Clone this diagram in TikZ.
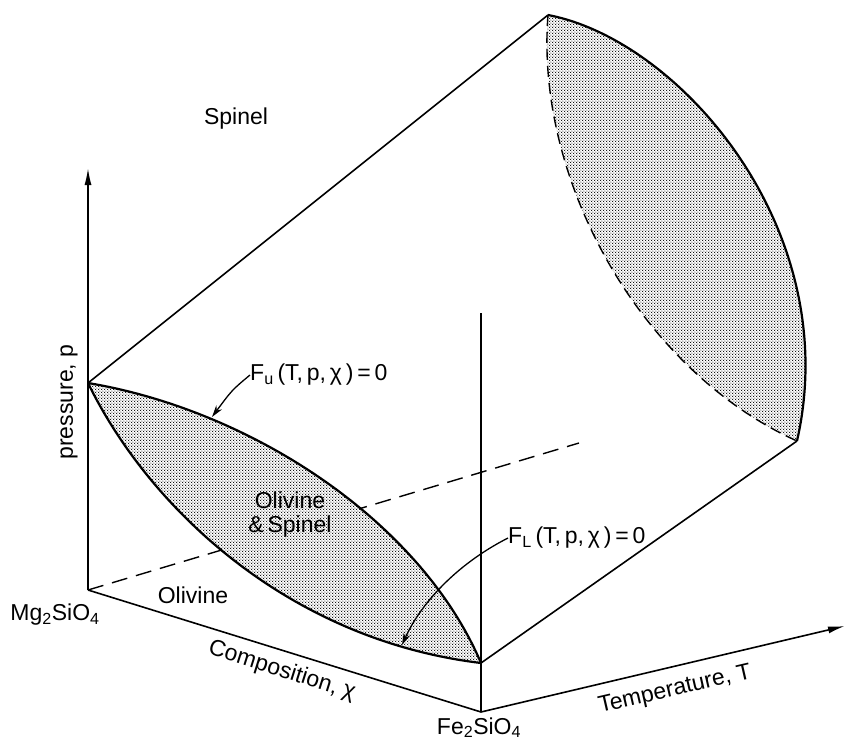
\documentclass[tikz,border=0pt]{standalone}
\usepackage{fontspec}
\setmainfont{Liberation Sans}
\usetikzlibrary{arrows.meta,patterns.meta}

\tikzdeclarepattern{
  name=stipple dots,
  type=uncolored,
  bounding box={(0pt,0pt) and (3.2pt,3.2pt)},
  tile size={(3.2pt,3.2pt)},
  code={
    \fill (0.8pt,0.8pt) circle (0.72pt);
    \fill (2.4pt,2.4pt) circle (0.72pt);
  }
}

\begin{document}
\begin{tikzpicture}[x=1pt, y=-1pt,
    edge/.style={line width=1.6pt},
    lensline/.style={line width=2.2pt},
    hidden/.style={line width=1.4pt, dash pattern=on 16pt off 9pt},
    backline/.style={line width=1.4pt, dash pattern=on 11pt off 6pt},
    stipple/.style={pattern=stipple dots, pattern color=black},
    axis/.style={line width=1.6pt, -{Latex[length=17pt,width=7pt]}},
    pointer/.style={line width=1.3pt, -{Stealth[length=12pt,width=7pt]}},
    label/.style={font=\fontsize{23}{24}\selectfont, inner sep=0pt}
]
\useasboundingbox (0,0) rectangle (846,742);

% Corners of the box
\coordinate (mg) at (88,590);
\coordinate (fe) at (481,712);
\coordinate (ptip) at (88,168);
\coordinate (ttip) at (845,626);
\coordinate (vtop) at (481,313);
\coordinate (dend) at (579,443);
\coordinate (lensA) at (88,383);
\coordinate (lensC) at (481,663);
\coordinate (lensD) at (548,15);
\coordinate (lensE) at (797,441);

% Axes
\draw[axis] (mg) -- (ptip);
\draw[axis] (fe) -- (ttip);
\draw[edge] (mg) -- (fe);
\draw[edge] (fe) -- (vtop);
\draw[hidden] (mg) -- (dend);

% Phase boundaries at the two ends
\draw[edge] (lensA) -- (lensD);
\draw[edge] (lensC) -- (lensE);

% Back lens (high T)
\fill[white] (lensD) .. controls (680,40) and (845,230) .. (lensE)
    .. controls (640,370) and (535,180) .. (lensD);
\fill[stipple] (lensD) .. controls (680,40) and (845,230) .. (lensE)
    .. controls (640,370) and (535,180) .. (lensD);
\draw[lensline] (lensD) .. controls (680,40) and (845,230) .. (lensE);
\draw[backline] (lensD) .. controls (535,180) and (640,370) .. (lensE);

% Front lens (two-phase region)
\fill[white] (lensA) .. controls (250,410) and (420,520) .. (lensC)
    .. controls (290,640) and (150,510) .. (lensA);
\fill[stipple] (lensA) .. controls (250,410) and (420,520) .. (lensC)
    .. controls (290,640) and (150,510) .. (lensA);
\draw[lensline] (lensA) .. controls (250,410) and (420,520) .. (lensC);
\draw[lensline] (lensA) .. controls (150,510) and (290,640) .. (lensC);

% Labels
\node[label] (spinel) at (236,119) {Spinel};
\node[label, rotate=90] (pres) at (69,402) {pressure, p};
\node[label, anchor=west] (fu) at (250,375) {F\textsubscript{u}\,(T,\,p,\,χ\,)\,=\,0};
\node[label, anchor=west] (fl) at (508,538) {F\textsubscript{L}\,(T,\,p,\,χ\,)\,=\,0};
\node[label, align=center] (twophase) at (290,515) {Olivine\\\&\,Spinel};
\node[label] (olivine) at (193,595) {Olivine};
\node[label] (mgname) at (55,615) {Mg\textsubscript{2}SiO\textsubscript{4}};
\node[label, anchor=base] (fename) at (479,734) {Fe\textsubscript{2}SiO\textsubscript{4}};
\node[label, rotate=-17.5] (comp) at (282,671) {Composition, χ};
\node[label, rotate=13] (temp) at (675,690) {Temperature, T};

% Pointers
\coordinate (fuend) at (212,417);
\coordinate (flend) at (402,645);
\draw[pointer] (fu.west) .. controls (232,390) .. (fuend);
\draw[pointer] (fl.west) .. controls (455,565) and (420,605) .. (flend);

\end{tikzpicture}
\end{document}
